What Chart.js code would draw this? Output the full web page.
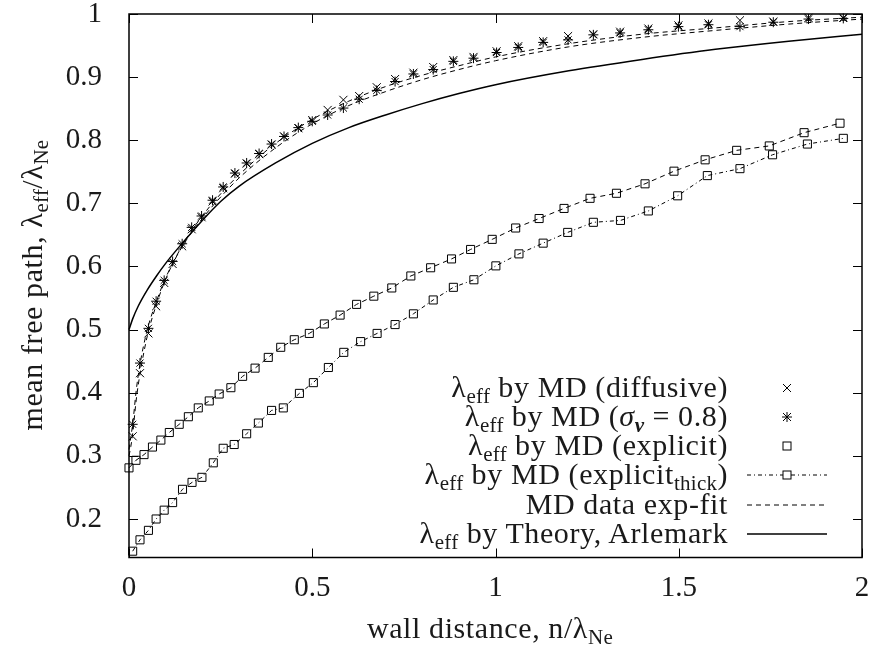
<!DOCTYPE html>
<html>
<head>
<meta charset="utf-8">
<script src="https://cdn.jsdelivr.net/npm/chart.js@4"></script>
<style>
  html, body { margin: 0; padding: 0; background: #fff; }
  #wrap { position: relative; width: 876px; height: 650px; overflow: hidden; }
  canvas { position: absolute; left: 0; top: 0; }
  .txt { position: absolute; font-family: "Liberation Serif", "DejaVu Serif", serif; font-size: 30px; color: #1a1a1a; white-space: nowrap; line-height: 29px; letter-spacing: 0.6px; }
  .sub { font-size: 0.7em; vertical-align: -0.3em; line-height: 0; letter-spacing: 0.3px; }
  .leg { right: 148px; text-align: right; }
  svg { position: absolute; left: 0; top: 0; pointer-events: none; }
</style>
</head>
<body>
<div id="wrap">
  <canvas id="c" width="876" height="650"></canvas>
  <div class="txt leg" style="top:372px">λ<span class="sub">eff</span> by MD (diffusive)</div>
  <div class="txt leg" style="top:401px">λ<span class="sub">eff</span> by MD (<i>σ</i><span class="sub"><b><i>v</i></b></span> = 0.8)</div>
  <div class="txt leg" style="top:430px">λ<span class="sub">eff</span> by MD (explicit)</div>
  <div class="txt leg" style="top:459px">λ<span class="sub">eff</span> by MD (explicit<span class="sub">thick</span>)</div>
  <div class="txt leg" style="top:489px">MD data exp-fit</div>
  <div class="txt leg" style="top:518px">λ<span class="sub">eff</span> by Theory, Arlemark</div>
  <div class="txt" style="left:490px; top:627px; transform:translate(-50%,-50%);">wall distance, n/λ<span class="sub">Ne</span></div>
  <div class="txt" style="left:31px; top:285px; transform:translate(-50%,-50%) rotate(-90deg);">mean free path, λ<span class="sub">eff</span>/λ<span class="sub">Ne</span></div>
  <svg width="876" height="650" viewBox="0 0 876 650">
    <g stroke="#000" fill="none">
      <path d="M783 384 L791 392 M791 384 L783 392" stroke-width="1"/>
      <path d="M783 413 L791 421 M791 413 L783 421 M787 412 L787 422 M782 417 L792 417" stroke-width="1"/>
      <rect x="783" y="442" width="8" height="8" stroke-width="1"/>
      <line x1="747" y1="475" x2="827" y2="475" stroke-width="1" stroke-dasharray="4,3,1,3"/>
      <rect x="783" y="471" width="8" height="8" stroke-width="1" fill="#fff"/>
      <line x1="747" y1="505" x2="827" y2="505" stroke-width="1" stroke-dasharray="5,4"/>
      <line x1="747" y1="534" x2="827" y2="534" stroke-width="1.5"/>
    </g>
  </svg>
</div>
<script>
// ---- tick definitions ----
const xTicks = [0, 0.5, 1, 1.5, 2];
const xTickLabels = ['0', '0.5', '1', '1.5', '2'];
const yTicks = [0.2, 0.3, 0.4, 0.5, 0.6, 0.7, 0.8, 0.9, 1];
const yTickLabels = ['0.2', '0.3', '0.4', '0.5', '0.6', '0.7', '0.8', '0.9', '1'];

// ---- MD diffusive (x) and sigma_v = 0.8 (*) ----
const mdX = [0.010,0.030,0.053,0.074,0.096,0.119,0.145,0.171,0.198,0.228,0.257,0.289,0.321,0.355,0.389,0.423,0.462,0.500,0.542,0.585,0.628,0.676,0.726,0.776,0.830,0.885,0.940,1.003,1.062,1.130,1.198,1.267,1.340,1.417,1.499,1.581,1.667,1.758,1.854,1.949];
const diffusiveY = [0.331,0.431,0.494,0.537,0.574,0.604,0.632,0.659,0.678,0.703,0.724,0.747,0.763,0.778,0.793,0.806,0.819,0.832,0.848,0.864,0.870,0.884,0.897,0.907,0.916,0.927,0.932,0.941,0.949,0.957,0.965,0.968,0.972,0.977,0.982,0.985,0.990,0.988,0.994,0.994];
const sigmaY = [0.350,0.447,0.502,0.545,0.578,0.608,0.636,0.662,0.680,0.705,0.726,0.748,0.764,0.779,0.794,0.806,0.820,0.830,0.840,0.851,0.865,0.879,0.893,0.905,0.912,0.925,0.930,0.939,0.947,0.955,0.959,0.967,0.970,0.975,0.980,0.983,0.980,0.987,0.992,0.993];

// ---- MD explicit (squares, dashed) ----
const explicitX = [0.000,0.019,0.041,0.064,0.087,0.110,0.137,0.162,0.189,0.219,0.246,0.278,0.310,0.344,0.380,0.414,0.451,0.492,0.533,0.576,0.621,0.668,0.717,0.769,0.823,0.880,0.932,0.991,1.055,1.119,1.187,1.258,1.330,1.408,1.487,1.572,1.658,1.747,1.842,1.940];
const explicitY = [0.281,0.293,0.302,0.314,0.325,0.337,0.350,0.362,0.376,0.387,0.398,0.408,0.426,0.439,0.456,0.472,0.484,0.494,0.509,0.523,0.540,0.553,0.566,0.585,0.598,0.612,0.627,0.643,0.661,0.676,0.692,0.708,0.716,0.731,0.751,0.769,0.784,0.791,0.812,0.827];

// ---- MD explicit thick (squares, dash-dot) ----
const thickX = [0.010,0.030,0.053,0.074,0.096,0.119,0.146,0.172,0.199,0.230,0.257,0.287,0.321,0.353,0.389,0.421,0.465,0.503,0.544,0.586,0.632,0.677,0.726,0.776,0.830,0.885,0.941,1.001,1.064,1.130,1.197,1.267,1.341,1.417,1.497,1.578,1.667,1.756,1.851,1.949];
const thickY = [0.149,0.167,0.182,0.200,0.214,0.226,0.247,0.258,0.266,0.289,0.312,0.318,0.335,0.352,0.372,0.376,0.399,0.416,0.440,0.464,0.481,0.494,0.508,0.525,0.547,0.567,0.579,0.601,0.620,0.637,0.654,0.670,0.673,0.688,0.712,0.744,0.755,0.777,0.794,0.803];

// ---- MD data exp-fit curves ----
const fitX = [0,0.005,0.01,0.02,0.03,0.05,0.075,0.1,0.15,0.2,0.25,0.3,0.4,0.5,0.6,0.7,0.8,0.9,1.0,1.2,1.4,1.6,1.8,2.0];
const fitDiffY = [0.300,0.315,0.335,0.390,0.430,0.490,0.540,0.580,0.638,0.680,0.715,0.745,0.795,0.833,0.862,0.885,0.903,0.918,0.932,0.953,0.968,0.978,0.988,0.995];
const fitSigY = [0.310,0.330,0.350,0.405,0.445,0.500,0.545,0.582,0.636,0.676,0.710,0.740,0.788,0.826,0.855,0.877,0.896,0.912,0.926,0.948,0.963,0.974,0.984,0.992];

// ---- Theory, Arlemark ----
const theoryX = [0,0.01,0.025,0.05,0.075,0.1,0.15,0.2,0.25,0.3,0.4,0.5,0.6,0.7,0.8,0.9,1.0,1.2,1.4,1.6,1.8,2.0];
const theoryY = [0.500,0.517,0.537,0.563,0.585,0.605,0.640,0.673,0.703,0.727,0.764,0.795,0.820,0.840,0.858,0.874,0.888,0.910,0.928,0.944,0.957,0.968];

const pts = (xs, ys) => xs.map((x, i) => ({x, y: ys[i]}));

const framePlugin = {
  id: 'frame',
  afterDraw(chart) {
    const {ctx, chartArea: a, scales: {x, y}} = chart;
    ctx.save();
    ctx.strokeStyle = '#000';
    const L = 9;
    ctx.lineWidth = 1;
    ctx.beginPath();
    x.ticks.forEach(t => {
      const p = Math.round(x.getPixelForValue(t.value)) + 0.5;
      ctx.moveTo(p, a.bottom); ctx.lineTo(p, a.bottom - L);
      ctx.moveTo(p, a.top); ctx.lineTo(p, a.top + L);
    });
    y.ticks.forEach(t => {
      const p = Math.round(y.getPixelForValue(t.value)) + 0.5;
      ctx.moveTo(a.left, p); ctx.lineTo(a.left + L, p);
      ctx.moveTo(a.right, p); ctx.lineTo(a.right - L, p);
    });
    ctx.stroke();
    ctx.lineWidth = 1.5;
    ctx.strokeRect(a.left, a.top, a.right - a.left, a.bottom - a.top);
    ctx.restore();
  }
};

const tickFont = {family: 'Liberation Serif', size: 29, lineHeight: 1};

new Chart(document.getElementById('c'), {
  type: 'scatter',
  data: {
    datasets: [
      {label: 'Theory', data: pts(theoryX, theoryY), showLine: true, borderColor: '#000', borderWidth: 1.5, pointRadius: 0, cubicInterpolationMode: 'monotone', clip: false},
      {label: 'fit diffusive', data: pts(fitX, fitDiffY), showLine: true, borderColor: '#000', borderWidth: 1, borderDash: [5, 4], pointRadius: 0, cubicInterpolationMode: 'monotone', clip: false},
      {label: 'fit sigma', data: pts(fitX, fitSigY), showLine: true, borderColor: '#000', borderWidth: 1, borderDash: [5, 4], pointRadius: 0, cubicInterpolationMode: 'monotone', clip: false},
      {label: 'explicit', data: pts(explicitX, explicitY), showLine: true, borderColor: '#000', borderWidth: 1, borderDash: [5, 4], pointStyle: 'rect', pointRadius: 5.7, pointBorderWidth: 1, pointBorderColor: '#000', pointBackgroundColor: 'rgba(0,0,0,0)', clip: false},
      {label: 'explicit thick', data: pts(thickX, thickY), showLine: true, borderColor: '#000', borderWidth: 1, borderDash: [4, 3, 1, 3], pointStyle: 'rect', pointRadius: 5.7, pointBorderWidth: 1, pointBorderColor: '#000', pointBackgroundColor: 'rgba(0,0,0,0)', clip: false},
      {label: 'diffusive', data: pts(mdX, diffusiveY), showLine: false, pointStyle: 'crossRot', pointRadius: 5.7, pointBorderWidth: 1, pointBorderColor: '#000', clip: false},
      {label: 'sigma', data: pts(mdX, sigmaY), showLine: false, pointStyle: 'star', pointRadius: 5, pointBorderWidth: 1, pointBorderColor: '#000', clip: false}
    ]
  },
  options: {
    responsive: false,
    animation: false,
    layout: {padding: {left: 0, right: 14, top: 14, bottom: 0}},
    plugins: {legend: {display: false}, tooltip: {enabled: false}},
    scales: {
      x: {
        type: 'linear', min: 0, max: 2,
        grid: {display: false}, border: {display: false},
        afterBuildTicks: s => { s.ticks = xTicks.map(v => ({value: v})); },
        afterFit: s => { s.height = 92.5; s.paddingLeft = 0; s.paddingRight = 0; },
        ticks: {padding: 8, font: tickFont, color: '#1a1a1a', maxRotation: 0, callback: (v, i) => xTickLabels[i]}
      },
      y: {
        type: 'linear', min: 0.139, max: 1,
        grid: {display: false}, border: {display: false},
        afterBuildTicks: s => { s.ticks = yTicks.map(v => ({value: v})); },
        afterFit: s => { s.width = 129; s.paddingTop = 0; s.paddingBottom = 0; },
        ticks: {padding: 19, font: tickFont, color: '#1a1a1a', callback: (v, i) => yTickLabels[i]}
      }
    }
  },
  plugins: [framePlugin]
});
</script>
</body>
</html>
